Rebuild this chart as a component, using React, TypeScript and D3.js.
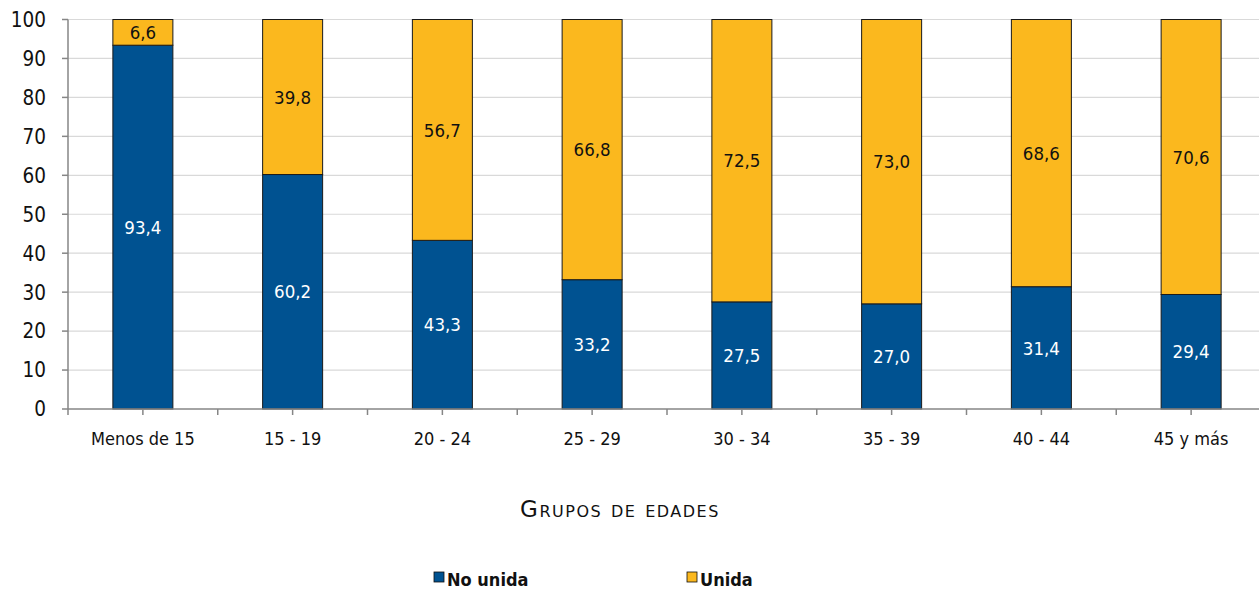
import { useEffect, useRef } from "react"
import * as d3 from "d3"

const categories = ["Menos de 15", "15 - 19", "20 - 24", "25 - 29", "30 - 34", "35 - 39", "40 - 44", "45 y más"]
const noUnida = [93.4, 60.2, 43.3, 33.2, 27.5, 27.0, 31.4, 29.4]
const unida = [6.6, 39.8, 56.7, 66.8, 72.5, 73.0, 68.6, 70.6]
const yTicks = [0, 10, 20, 30, 40, 50, 60, 70, 80, 90, 100]
const seriesNames = ["No unida", "Unida"]
const seriesColors = ["#005291", "#FBB81E"]

const FONT = "'DejaVu Sans Condensed', sans-serif"

export default function App() {
  const svgRef = useRef<SVGSVGElement>(null)

  useEffect(() => {
    if (!svgRef.current) return
    const width = 1259
    const height = 590
    const svg = d3.select(svgRef.current)
    svg.selectAll("*").remove()

    const left = 68
    const right = 1266
    const top = 19.5
    const bottom = 409

    const x = d3.scaleBand<string>().domain(categories).range([left, right]).padding(0)
    const y = d3.scaleLinear().domain([0, 100]).range([bottom, top])
    const barW = 60

    // gridlines
    svg.append("g")
      .selectAll("line")
      .data(yTicks.filter(t => t > 0))
      .enter()
      .append("line")
      .attr("x1", left)
      .attr("x2", width)
      .attr("y1", d => y(d))
      .attr("y2", d => y(d))
      .attr("stroke", "#d9d9d9")
      .attr("stroke-width", 1.2)

    // bars
    const rows = categories.map((c, i) => ({ c, a: noUnida[i], b: unida[i] }))
    const g = svg.append("g")
    rows.forEach(r => {
      const cx = (x(r.c) ?? 0) + x.bandwidth() / 2
      g.append("rect")
        .attr("x", cx - barW / 2)
        .attr("y", y(r.a))
        .attr("width", barW)
        .attr("height", y(0) - y(r.a))
        .attr("fill", seriesColors[0])
        .attr("stroke", "#1a1a1a")
        .attr("stroke-width", 1)
      g.append("rect")
        .attr("x", cx - barW / 2)
        .attr("y", y(r.a + r.b))
        .attr("width", barW)
        .attr("height", y(r.a) - y(r.a + r.b))
        .attr("fill", seriesColors[1])
        .attr("stroke", "#1a1a1a")
        .attr("stroke-width", 1)
      g.append("text")
        .attr("x", cx)
        .attr("y", y(r.a / 2))
        .attr("dy", "0.36em")
        .attr("text-anchor", "middle")
        .attr("font-family", FONT)
        .attr("font-size", 18.5)
        .attr("fill", "#ffffff")
        .text(r.a.toFixed(1).replace(".", ","))
      g.append("text")
        .attr("x", cx)
        .attr("y", y(r.a + r.b / 2))
        .attr("dy", "0.36em")
        .attr("text-anchor", "middle")
        .attr("font-family", FONT)
        .attr("font-size", 18.5)
        .attr("fill", "#111")
        .text(r.b.toFixed(1).replace(".", ","))
    })

    // axes
    const axisColor = "#868686"
    svg.append("line")
      .attr("x1", left).attr("x2", left)
      .attr("y1", top).attr("y2", bottom)
      .attr("stroke", axisColor).attr("stroke-width", 1.5)
    svg.append("line")
      .attr("x1", left).attr("x2", width)
      .attr("y1", bottom).attr("y2", bottom)
      .attr("stroke", axisColor).attr("stroke-width", 1.5)

    svg.append("g")
      .selectAll("line")
      .data(yTicks)
      .enter()
      .append("line")
      .attr("x1", left - 6).attr("x2", left)
      .attr("y1", d => y(d)).attr("y2", d => y(d))
      .attr("stroke", axisColor).attr("stroke-width", 1.5)

    svg.append("g")
      .selectAll("text")
      .data(yTicks)
      .enter()
      .append("text")
      .attr("x", 46)
      .attr("y", d => y(d))
      .attr("dy", "0.36em")
      .attr("text-anchor", "end")
      .attr("font-family", FONT)
      .attr("font-size", 20.5)
      .attr("fill", "#111")
      .text(d => d)

    // x ticks at band edges and band centres
    const xTickPos: number[] = []
    categories.forEach(c => {
      const x0 = x(c) ?? 0
      xTickPos.push(x0, x0 + x.bandwidth() / 2)
    })
    svg.append("g")
      .selectAll("line")
      .data(xTickPos)
      .enter()
      .append("line")
      .attr("x1", d => d).attr("x2", d => d)
      .attr("y1", bottom).attr("y2", bottom + 6)
      .attr("stroke", axisColor).attr("stroke-width", 1.5)

    svg.append("g")
      .selectAll("text")
      .data(categories)
      .enter()
      .append("text")
      .attr("x", d => (x(d) ?? 0) + x.bandwidth() / 2)
      .attr("y", 445)
      .attr("text-anchor", "middle")
      .attr("font-family", FONT)
      .attr("font-size", 18)
      .attr("fill", "#111")
      .text(d => d)

    // axis title
    svg.append("text")
      .attr("x", 620)
      .attr("y", 517)
      .attr("text-anchor", "middle")
      .attr("font-family", "'DejaVu Sans', sans-serif")
      .attr("font-size", 23)
      .attr("font-variant", "small-caps")
      .attr("letter-spacing", 1.5)
      .attr("fill", "#111")
      .text("Grupos de edades")

    // legend
    const legendX = [434, 687]
    seriesNames.forEach((n, i) => {
      svg.append("rect")
        .attr("x", legendX[i])
        .attr("y", 572)
        .attr("width", 10)
        .attr("height", 10)
        .attr("fill", seriesColors[i])
        .attr("stroke", "#111")
        .attr("stroke-width", 0.8)
      svg.append("text")
        .attr("x", legendX[i] + 13)
        .attr("y", 586)
        .attr("font-family", FONT)
        .attr("font-size", 18)
        .attr("font-weight", "bold")
        .attr("fill", "#111")
        .text(n)
    })

    svg.attr("width", width).attr("height", height)
  }, [])

  return (
    <svg
      ref={svgRef}
      width={1259}
      height={590}
      style={{ position: "absolute", left: 0, top: 0, background: "#fff" }}
    />
  )
}
